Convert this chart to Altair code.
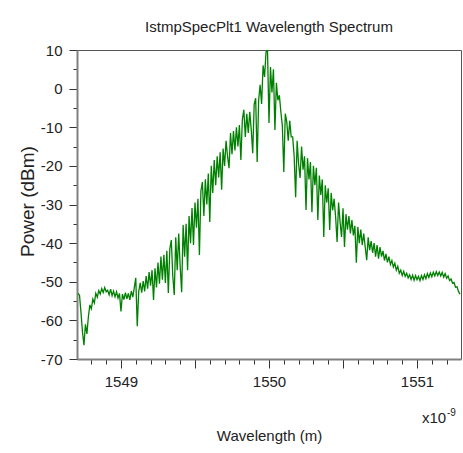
import altair as alt
import pandas as pd

title_text = "IstmpSpecPlt1 Wavelength Spectrum"
x_title = "Wavelength (m)"
y_title = "Power (dBm)"
exp_base = "x10"
exp_power = "-9"

wl_start = 1548.71
wl_step = 0.01

power_a = [-53.0, -53.5, -58.0, -63.0, -66.4, -61.0, -63.5, -59.0, -56.0, -57.0,
           -54.5, -55.5, -53.0, -54.0, -52.3, -53.2, -51.8, -52.8, -51.5, -52.6]
power_b = [-52.2, -53.4, -51.9, -53.6, -52.4, -53.9, -52.6, -54.2, -53.0, -57.7,
           -53.2, -54.6, -52.8, -54.4, -53.0, -54.7, -52.4, -54.0, -51.5, -49.0,
           -61.5, -52.5, -50.3, -52.8, -49.8, -52.5, -48.5, -51.8, -47.5, -51.0]
power_c = [-47.0, -54.7, -46.5, -51.5, -45.0, -50.5, -43.5, -49.5, -43.0, -50.3,
           -42.0, -52.9, -41.5, -39.2, -48.5, -53.4, -38.5, -47.0, -37.5, -46.0,
           -52.7, -35.3, -43.5, -35.0, -47.0, -33.0, -40.0, -30.9, -40.5, -29.5,
           -36.0, -28.5, -43.1, -26.5, -24.2, -33.0, -23.5, -30.0, -22.0, -34.5,
           -20.0, -27.0, -18.5, -25.0, -17.5, -23.0]
power_d = [-16.5, -26.2, -15.5, -20.0, -13.5, -17.5, -20.6, -11.5, -17.0, -11.0,
           -16.0, -10.0, -15.0, -9.4, -18.5, -8.0, -5.5, -12.5, -6.5, -11.5,
           -6.0, -10.5, -16.7, -4.0, -2.5, -19.0, -3.0, 1.0, -4.0, 6.0,
           3.0, 9.5, 9.8, -8.9, 5.6, -1.0, 5.0, -10.7, 1.5, -3.0,
           -1.7, -6.0, -9.5, -21.6, -6.5]
power_e = [-8.6, -13.5, -8.3, -12.5, -12.5, -17.5, -28.1, -13.5, -19.5, -23.1,
           -15.0, -21.0, -17.5, -31.4, -18.0, -23.5, -19.0, -32.0, -20.0, -25.0,
           -20.5, -34.0, -22.5, -27.5, -23.5, -38.4, -25.0, -29.5, -25.8, -36.6,
           -27.0, -31.5, -28.5, -33.2, -39.7, -29.5, -34.5]
power_f = [-38.4, -31.0, -41.0, -32.5, -36.5, -33.0, -37.5, -34.0, -38.0, -35.5,
           -45.1, -35.8, -40.0, -36.5, -40.5, -37.5, -41.0, -44.4, -38.5, -41.8,
           -39.5, -42.5, -40.0, -43.5, -40.5, -44.0, -41.0, -43.5, -42.0, -44.5,
           -42.8, -45.0, -43.5, -45.5, -44.5, -46.2, -45.2, -47.0, -46.0, -47.8,
           -47.0]
power_g = [-48.4, -47.3, -48.6, -47.8, -49.0, -48.2, -49.4, -48.3, -49.6, -48.4,
           -49.5, -48.6, -49.7, -48.4, -49.4, -48.2, -49.2, -47.9, -48.9, -47.7,
           -48.7, -47.5, -48.5, -47.4, -48.4, -47.5, -48.5, -47.6, -48.8, -47.9,
           -49.1, -48.5, -49.7, -49.3, -50.4, -50.2, -51.4, -51.3, -52.5, -53.2]

x_domain = [1548.703, 1551.297]
y_domain = [-70, 10]
x_ticks = [round(1548.8 + 0.1 * k, 1) for k in range(25)]
y_ticks = list(range(-70, 11, 5))

power = power_a + power_b + power_c + power_d + power_e + power_f + power_g
wavelength = [round(wl_start + wl_step * i, 2) for i in range(len(power))]
df = pd.DataFrame({"wavelength": wavelength, "power": power})

FONT = "Liberation Sans"
TXT = "#222222"

x_axis = alt.Axis(
    values=x_ticks,
    title=x_title,
    titleFont=FONT, titleFontSize=15, titleFontWeight="normal", titleColor=TXT,
    titleX=192, titleY=81, titleBaseline="alphabetic", titleAlign="center",
    labelExpr="abs(datum.value - round(datum.value)) < 0.001 ? '' + round(datum.value) : ''",
    labelFont=FONT, labelFontSize=15, labelColor=TXT, labelPadding=6,
    labelOverlap=False, labelFlush=False,
    tickSize={"condition": {"test": "abs(datum.value * 2 - round(datum.value * 2)) < 0.001", "value": 9}, "value": 5},
    tickColor="#333333", tickWidth=1,
    domainColor="#808080", domainWidth=2, grid=False,
)
y_axis = alt.Axis(
    values=y_ticks,
    title=y_title,
    titleFont=FONT, titleFontSize=19, titleFontWeight="normal", titleColor=TXT,
    titleX=-44, titleY=151, titleAngle=270, titleBaseline="alphabetic", titleAlign="center",
    labelExpr="datum.value % 10 === 0 ? '' + datum.value : ''",
    labelFont=FONT, labelFontSize=15, labelColor=TXT, labelPadding=7,
    labelOverlap=False, labelFlush=False,
    tickSize={"condition": {"test": "datum.value % 10 === 0", "value": 8}, "value": 4},
    tickColor="#333333", tickWidth=1,
    domainColor="#808080", domainWidth=2, grid=False,
)

line = alt.Chart(df).mark_line(color="#008000", strokeWidth=1.3).encode(
    x=alt.X("wavelength:Q", scale=alt.Scale(domain=x_domain, nice=False, zero=False), axis=x_axis),
    y=alt.Y("power:Q", scale=alt.Scale(domain=y_domain, nice=False, zero=False), axis=y_axis),
)

exp1 = alt.Chart(pd.DataFrame({"t": [exp_base]})).mark_text(
    align="left", baseline="alphabetic", font=FONT, fontSize=15, color=TXT
).encode(text="t:N", x=alt.value(345), y=alt.value(373))
exp2 = alt.Chart(pd.DataFrame({"t": [exp_power]})).mark_text(
    align="left", baseline="alphabetic", font=FONT, fontSize=10, color=TXT
).encode(text="t:N", x=alt.value(370), y=alt.value(366))

chart = alt.layer(line, exp1, exp2).properties(
    width=384, height=309,
    padding={"left": 77, "top": 50, "right": 2, "bottom": 94},
    autosize=alt.AutoSizeParams(type="none"),
    title=alt.TitleParams(title_text, font=FONT, fontSize=15, fontWeight="normal",
                          color=TXT, anchor="middle", baseline="alphabetic", offset=19, dy=23),
    background="white",
).configure_view(stroke="#555555", strokeWidth=1)

chart.save("out.html", embed_options={"renderer": "svg", "actions": False})
